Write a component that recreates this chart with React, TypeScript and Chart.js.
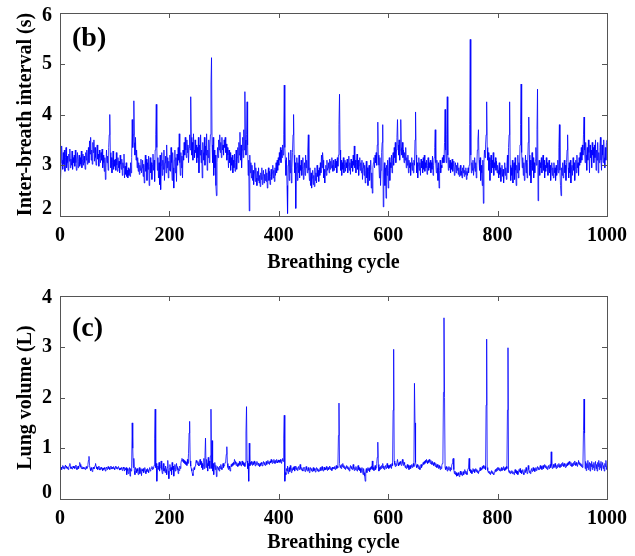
import React, { useEffect, useRef } from "react";
import { Chart, registerables } from "chart.js";

Chart.register(...registerables);

const FONT = "'Liberation Serif', 'Times New Roman', serif";

const cycleTicks = [0, 200, 400, 600, 800, 1000];
const intervalTicks = [2, 3, 4, 5, 6];
const volumeTicks = [0, 1, 2, 3, 4];

// Inter-breath interval (s), one value per breathing cycle (1..1000)
const interBreath = [
  2.72, 3.05, 3.38, 3.10, 2.92, 3.25, 3.02, 3.30, 2.88, 3.15, 3.35, 2.95, 3.18, 3.05, 2.90, 3.22, 3.08, 3.32, 2.95, 3.12, 3.00, 3.28, 2.92, 3.15, 3.05,
  3.20, 2.98, 3.30, 3.05, 2.90, 3.12, 3.25, 2.95, 3.08, 3.20, 2.98, 3.15, 3.02, 3.28, 2.95, 3.10, 3.22, 3.00, 3.18, 3.05, 2.92, 3.25, 3.10, 3.30, 3.02,
  3.15, 3.35, 3.05, 3.48, 3.22, 3.55, 3.10, 3.30, 3.02, 3.45, 3.25, 3.50, 3.08, 3.35, 3.15, 3.00, 3.28, 3.40, 3.12, 3.22, 2.98, 3.30, 3.15, 3.05, 3.25,
  3.10, 3.32, 2.95, 3.20, 3.05, 2.88, 3.15, 2.72, 2.95, 3.30, 3.05, 3.18, 2.90, 3.35, 3.60, 4.00, 3.25, 2.95, 3.15, 2.85, 3.05, 3.28, 2.92, 3.10, 2.98,
  3.12, 2.90, 3.25, 3.00, 2.88, 3.15, 2.95, 3.08, 2.85, 3.20, 3.02, 2.92, 3.12, 2.80, 3.05, 2.95, 3.22, 2.75, 2.98, 2.82, 3.05, 2.78, 2.90, 2.75, 2.95,
  2.80, 2.92, 2.78, 3.05, 2.85, 3.15, 3.90, 3.35, 3.60, 4.27, 3.45, 3.20, 3.55, 3.10, 3.30, 2.95, 3.15, 2.88, 3.05, 2.82, 3.00, 2.90, 3.12, 2.85, 2.95,
  3.10, 2.78, 3.02, 2.65, 2.95, 3.20, 2.88, 3.12, 2.70, 3.05, 2.92, 3.18, 2.60, 2.98, 3.15, 2.85, 3.05, 2.72, 3.00, 3.22, 2.90, 3.10, 2.68, 3.30, 3.60,
  4.20, 3.35, 2.90, 3.15, 2.75, 3.05, 2.62, 3.20, 2.52, 3.00, 3.25, 2.80, 3.10, 2.92, 3.30, 2.70, 3.05, 3.18, 2.85, 3.40, 2.95, 3.15, 2.75, 3.08, 2.90,
  3.20, 2.88, 3.35, 3.05, 2.70, 3.25, 2.95, 2.55, 3.10, 3.30, 2.85, 3.15, 2.68, 3.22, 3.00, 3.35, 3.10, 3.62, 3.05, 2.80, 3.25, 2.95, 3.18, 2.75, 3.30,
  3.10, 3.45, 3.20, 3.55, 3.30, 3.15, 3.50, 3.25, 3.40, 3.05, 3.35, 3.60, 3.30, 4.35, 3.55, 3.20, 3.45, 3.10, 3.62, 3.30, 3.15, 3.50, 3.25, 3.40, 3.05,
  3.35, 3.15, 3.55, 2.85, 3.40, 3.20, 3.60, 3.05, 3.30, 2.75, 3.45, 3.25, 3.10, 3.55, 3.00, 3.38, 3.20, 3.62, 2.90, 3.30, 3.15, 3.50, 3.05, 3.35, 3.60,
  4.60, 5.12, 3.40, 3.05, 3.55, 2.80, 3.30, 2.95, 3.20, 2.60, 2.40, 3.05, 3.35, 3.15, 3.50, 3.30, 3.60, 3.25, 3.45, 3.15, 3.55, 3.30, 3.40, 3.20, 3.50,
  3.35, 3.55, 3.25, 3.42, 3.10, 3.35, 3.20, 2.95, 3.30, 3.05, 3.25, 2.90, 3.15, 3.00, 3.20, 2.85, 3.10, 2.95, 3.22, 2.88, 3.05, 3.30, 2.92, 3.15, 3.35,
  3.05, 3.45, 3.20, 3.65, 3.10, 3.40, 2.95, 3.30, 3.55, 3.15, 3.70, 3.30, 4.45, 3.50, 3.20, 3.60, 4.25, 3.40, 2.80, 3.10, 2.10, 3.20, 2.85, 3.05, 2.75,
  3.00, 2.70, 2.90, 2.62, 2.85, 3.05, 2.68, 2.95, 2.75, 2.60, 2.88, 2.70, 2.95, 2.65, 2.80, 2.58, 2.85, 2.72, 2.95, 2.62, 2.78, 2.90, 2.65, 2.82, 2.70,
  2.92, 2.68, 2.85, 2.55, 2.80, 2.95, 2.70, 2.88, 2.62, 2.78, 2.92, 2.72, 2.85, 3.00, 2.75, 2.90, 2.68, 2.95, 2.80, 3.05, 2.85, 3.10, 2.90, 3.15, 3.00,
  3.25, 3.10, 3.35, 3.05, 3.30, 3.15, 3.40, 3.20, 3.60, 4.58, 3.35, 3.10, 2.80, 3.15, 2.60, 2.05, 3.00, 3.25, 2.70, 3.10, 2.85, 3.30, 2.65, 2.95, 3.25,
  3.60, 4.00, 3.20, 2.85, 3.05, 2.15, 2.95, 3.15, 2.70, 3.05, 2.85, 3.20, 2.75, 3.00, 2.90, 3.10, 2.80, 2.95, 3.15, 2.72, 2.90, 3.05, 2.80, 3.20, 2.95,
  3.10, 2.85, 3.30, 3.60, 2.90, 2.70, 2.95, 2.60, 2.85, 2.55, 2.75, 2.90, 2.62, 2.80, 2.58, 2.95, 2.70, 2.85, 2.65, 3.00, 2.78, 2.90, 2.68, 2.95, 2.80,
  3.05, 2.85, 3.20, 2.95, 3.25, 3.10, 2.75, 2.92, 2.65, 2.88, 3.00, 2.80, 3.10, 2.90, 2.95, 3.05, 2.85, 3.12, 2.92, 3.08, 2.95, 3.15, 3.00, 2.88, 3.10,
  2.90, 3.05, 3.12, 2.95, 3.08, 2.85, 3.15, 2.98, 3.20, 3.80, 4.40, 3.30, 2.90, 3.10, 2.80, 3.05, 2.92, 3.15, 2.85, 3.00, 3.10, 2.88, 3.05, 2.95, 3.12,
  2.85, 3.00, 3.18, 2.90, 3.05, 2.82, 3.12, 2.95, 3.08, 2.88, 3.20, 3.00, 3.38, 2.95, 3.10, 2.85, 3.05, 3.22, 2.92, 3.10, 2.80, 3.00, 3.15, 2.90, 3.05,
  2.85, 3.10, 2.72, 2.95, 3.05, 2.80, 3.00, 2.65, 2.90, 3.08, 2.75, 2.95, 2.60, 2.88, 3.00, 2.70, 2.92, 3.10, 2.55, 2.85, 2.45, 2.95, 3.05, 3.15, 2.95,
  3.20, 3.05, 3.25, 3.00, 3.40, 3.85, 3.20, 3.00, 2.75, 3.15, 2.60, 2.90, 3.25, 3.45, 3.80, 2.18, 2.85, 3.05, 2.60, 2.95, 2.35, 3.00, 2.80, 3.10, 2.55,
  2.90, 3.15, 2.70, 3.05, 2.95, 3.20, 2.85, 3.10, 3.25, 3.00, 3.35, 3.15, 3.45, 3.05, 3.30, 3.55, 3.90, 3.40, 3.20, 3.50, 3.10, 3.30, 3.90, 3.35, 3.20,
  3.45, 3.15, 3.30, 3.05, 3.25, 3.10, 3.35, 2.95, 3.15, 3.00, 3.20, 2.85, 3.10, 2.95, 3.05, 2.80, 3.00, 3.15, 2.90, 3.05, 2.85, 3.10, 3.00, 3.50, 4.05,
  3.20, 2.85, 3.05, 2.75, 3.00, 3.15, 2.90, 3.05, 2.80, 3.12, 2.95, 3.08, 2.85, 3.15, 2.92, 3.20, 2.88, 3.05, 2.95, 3.10, 2.82, 3.00, 3.15, 2.90, 3.05,
  2.95, 3.10, 2.85, 3.05, 2.92, 3.18, 2.80, 3.00, 3.15, 3.35, 3.70, 3.05, 2.85, 3.10, 2.95, 2.70, 3.05, 2.55, 2.90, 3.10, 2.85, 3.00, 2.95, 3.15, 3.05,
  3.20, 3.05, 3.45, 4.10, 3.30, 3.05, 3.60, 4.35, 3.20, 2.90, 3.15, 2.95, 3.10, 2.85, 3.05, 2.92, 3.12, 2.88, 3.00, 3.08, 2.80, 2.95, 3.05, 2.85, 3.00,
  2.90, 3.05, 2.82, 2.95, 2.78, 2.92, 3.00, 2.80, 2.88, 2.75, 2.95, 2.85, 3.00, 2.78, 2.90, 2.82, 2.95, 2.72, 2.88, 2.80, 2.95, 2.85, 3.00, 3.80, 5.48,
  3.20, 2.85, 3.05, 2.90, 3.10, 2.80, 2.95, 3.15, 2.88, 3.05, 2.75, 3.00, 3.30, 3.50, 3.70, 3.10, 2.90, 3.15, 2.70, 3.00, 2.85, 2.60, 3.10, 2.25, 3.05,
  3.30, 3.15, 3.40, 3.60, 4.25, 3.35, 3.10, 3.25, 2.90, 3.15, 2.70, 3.05, 3.20, 2.85, 3.10, 2.95, 3.25, 2.80, 3.05, 2.95, 3.15, 2.90, 3.08, 2.85, 3.00,
  2.90, 2.75, 3.05, 2.82, 2.95, 2.68, 2.90, 3.00, 2.78, 2.92, 2.65, 2.85, 3.05, 2.80, 2.95, 2.72, 3.00, 3.20, 2.85, 3.35, 3.60, 4.25, 3.00, 2.70, 2.95,
  2.80, 3.10, 2.65, 2.95, 3.05, 2.72, 3.15, 2.90, 2.60, 3.00, 2.85, 3.20, 2.75, 3.05, 2.90, 3.40, 3.80, 4.60, 3.25, 2.95, 3.15, 2.80, 3.05, 2.70, 2.95,
  3.20, 2.85, 3.10, 2.75, 3.05, 3.45, 3.95, 3.20, 2.80, 3.10, 2.65, 3.00, 3.25, 2.90, 3.15, 2.75, 3.05, 2.85, 3.10, 3.35, 3.00, 3.70, 4.50, 2.30, 2.95,
  3.10, 2.80, 3.05, 2.95, 3.15, 2.85, 3.00, 3.20, 2.90, 3.10, 2.75, 3.00, 2.88, 3.15, 2.95, 3.05, 2.80, 2.95, 3.10, 2.85, 3.00, 2.70, 2.92, 3.05, 2.80,
  2.95, 2.75, 3.05, 2.85, 2.95, 2.70, 3.00, 2.80, 2.92, 3.10, 2.85, 3.35, 3.80, 2.90, 2.60, 2.40, 2.95, 2.80, 3.05, 2.75, 2.95, 3.10, 2.85, 3.00, 2.70,
  3.05, 3.30, 3.60, 2.95, 2.75, 3.05, 2.85, 3.10, 2.65, 2.95, 3.00, 2.80, 3.15, 2.90, 3.05, 2.70, 2.95, 3.10, 2.85, 3.20, 2.95, 3.05, 2.80, 3.15, 3.00,
  3.25, 3.05, 3.35, 3.10, 3.40, 3.20, 3.60, 3.95, 3.30, 3.05, 3.45, 3.20, 2.90, 3.35, 3.10, 3.50, 3.25, 2.85, 3.40, 3.15, 3.30, 2.95, 3.45, 3.20, 3.35,
  3.05, 3.40, 3.15, 3.50, 2.90, 3.30, 3.10, 3.45, 2.85, 3.25, 3.05, 3.35, 3.55, 3.10, 2.90, 3.40, 3.20, 3.05, 3.50, 3.15, 2.95, 3.35, 3.10, 3.45, 3.50,
];

// Lung volume (L), one value per breathing cycle (1..1000)
const lungVolume = [
  0.60, 0.63, 0.58, 0.62, 0.66, 0.60, 0.64, 0.59, 0.63, 0.67, 0.61, 0.65, 0.60, 0.63, 0.58, 0.62, 0.66, 0.70, 0.64, 0.60, 0.63, 0.59, 0.62, 0.65, 0.61,
  0.64, 0.60, 0.63, 0.67, 0.62, 0.58, 0.61, 0.65, 0.60, 0.66, 0.72, 0.68, 0.63, 0.60, 0.64, 0.61, 0.59, 0.63, 0.60, 0.62, 0.58, 0.61, 0.64, 0.60, 0.63,
  0.68, 0.76, 0.84, 0.66, 0.60, 0.56, 0.62, 0.58, 0.54, 0.60, 0.63, 0.59, 0.62, 0.66, 0.70, 0.64, 0.60, 0.63, 0.58, 0.61, 0.65, 0.60, 0.57, 0.62, 0.59,
  0.63, 0.60, 0.56, 0.61, 0.58, 0.62, 0.59, 0.55, 0.60, 0.63, 0.58, 0.61, 0.64, 0.60, 0.62, 0.58, 0.61, 0.65, 0.62, 0.59, 0.63, 0.60, 0.64, 0.61, 0.58,
  0.62, 0.65, 0.60, 0.63, 0.59, 0.61, 0.64, 0.60, 0.57, 0.61, 0.58, 0.62, 0.60, 0.56, 0.60, 0.63, 0.59, 0.55, 0.60, 0.58, 0.62, 0.48, 0.60, 0.56, 0.50,
  0.58, 0.62, 0.45, 0.60, 0.55, 0.65, 1.50, 1.00, 0.62, 0.80, 0.55, 0.48, 0.62, 0.58, 0.52, 0.60, 0.55, 0.48, 0.58, 0.62, 0.50, 0.56, 0.60, 0.46, 0.58,
  0.55, 0.60, 0.52, 0.57, 0.62, 0.55, 0.50, 0.58, 0.54, 0.60, 0.56, 0.52, 0.59, 0.62, 0.55, 0.58, 0.60, 0.64, 0.58, 0.62, 0.60, 0.66, 1.20, 1.77, 0.62,
  0.70, 0.35, 0.60, 0.65, 0.58, 0.72, 0.55, 0.62, 0.68, 0.75, 0.58, 0.50, 0.62, 0.70, 0.55, 0.60, 0.52, 0.65, 0.58, 0.48, 0.62, 0.76, 0.55, 0.40, 0.60,
  0.68, 0.55, 0.62, 0.48, 0.72, 0.58, 0.65, 0.45, 0.60, 0.68, 0.55, 0.62, 0.70, 0.58, 0.64, 0.50, 0.60, 0.56, 0.65, 0.60, 0.70, 0.76, 0.80, 0.74, 0.78,
  0.72, 0.76, 0.70, 0.74, 0.68, 0.72, 0.66, 0.78, 0.70, 0.90, 1.30, 1.53, 0.75, 0.65, 0.60, 0.55, 0.50, 0.46, 0.55, 0.62, 0.58, 0.65, 0.70, 0.76, 0.72,
  0.68, 0.74, 0.70, 0.65, 0.72, 0.78, 0.68, 0.74, 0.62, 0.70, 0.58, 0.66, 0.80, 0.60, 0.85, 1.20, 0.62, 0.78, 0.70, 0.55, 0.82, 0.65, 0.75, 0.60, 0.85,
  1.77, 0.60, 1.15, 0.55, 0.70, 0.48, 0.65, 0.72, 0.58, 0.66, 0.44, 0.60, 0.64, 0.58, 0.62, 0.55, 0.65, 0.60, 0.68, 0.62, 0.58, 0.64, 0.70, 0.62, 0.66,
  0.68, 0.72, 0.75, 0.88, 1.03, 0.70, 0.62, 0.58, 0.65, 0.60, 0.55, 0.62, 0.68, 0.64, 0.70, 0.66, 0.72, 0.68, 0.78, 0.74, 0.70, 0.66, 0.72, 0.68, 0.64,
  0.70, 0.66, 0.74, 0.68, 0.72, 0.65, 0.70, 0.75, 0.68, 0.72, 0.66, 0.70, 0.64, 0.72, 1.30, 1.82, 0.75, 0.60, 0.70, 0.35, 1.10, 0.65, 0.72, 0.68, 0.74,
  0.70, 0.66, 0.72, 0.68, 0.75, 0.70, 0.65, 0.72, 0.68, 0.74, 0.70, 0.66, 0.71, 0.68, 0.64, 0.70, 0.66, 0.72, 0.69, 0.65, 0.70, 0.74, 0.68, 0.72, 0.66,
  0.70, 0.74, 0.68, 0.72, 0.76, 0.70, 0.73, 0.68, 0.75, 0.71, 0.78, 0.73, 0.70, 0.76, 0.72, 0.78, 0.74, 0.70, 0.76, 0.72, 0.78, 0.74, 0.71, 0.77, 0.73,
  0.76, 0.72, 0.78, 0.74, 0.70, 0.76, 0.80, 0.74, 1.20, 1.65, 0.35, 0.52, 0.48, 0.60, 0.55, 0.65, 0.50, 0.58, 0.62, 0.54, 0.66, 0.58, 0.52, 0.60, 0.56,
  0.62, 0.58, 0.64, 0.55, 0.60, 0.65, 0.58, 0.62, 0.56, 0.60, 0.64, 0.58, 0.62, 0.68, 0.60, 0.57, 0.62, 0.58, 0.55, 0.60, 0.63, 0.58, 0.54, 0.60, 0.64,
  0.58, 0.55, 0.60, 0.62, 0.56, 0.52, 0.58, 0.62, 0.56, 0.60, 0.54, 0.58, 0.62, 0.55, 0.60, 0.57, 0.53, 0.59, 0.62, 0.56, 0.60, 0.54, 0.58, 0.55, 0.60,
  0.62, 0.56, 0.60, 0.64, 0.58, 0.55, 0.60, 0.63, 0.57, 0.61, 0.58, 0.64, 0.60, 0.56, 0.62, 0.58, 0.60, 0.65, 0.58, 0.62, 0.60, 0.56, 0.63, 0.59, 0.62,
  0.60, 0.64, 0.58, 0.62, 0.66, 0.60, 0.64, 0.62, 1.25, 1.89, 0.70, 0.62, 0.66, 0.60, 0.68, 0.64, 0.70, 0.62, 0.66, 0.60, 0.64, 0.58, 0.62, 0.66, 0.60,
  0.64, 0.58, 0.62, 0.55, 0.60, 0.66, 0.60, 0.64, 0.58, 0.62, 0.68, 0.60, 0.56, 0.62, 0.58, 0.64, 0.60, 0.55, 0.62, 0.66, 0.58, 0.62, 0.56, 0.60, 0.52,
  0.58, 0.62, 0.55, 0.48, 0.60, 0.52, 0.45, 0.35, 0.55, 0.60, 0.52, 0.58, 0.62, 0.56, 0.60, 0.54, 0.62, 0.58, 0.64, 0.60, 0.75, 0.58, 0.62, 0.56, 0.60,
  0.66, 0.58, 0.62, 0.70, 0.82, 1.12, 0.68, 0.55, 0.62, 0.58, 0.64, 0.60, 0.66, 0.62, 0.70, 0.60, 0.65, 0.58, 0.62, 0.66, 0.60, 0.64, 0.70, 0.62, 0.66,
  0.60, 0.66, 0.62, 0.68, 0.64, 0.60, 0.70, 0.66, 1.75, 2.95, 0.75, 0.68, 0.64, 0.70, 0.66, 0.72, 0.78, 0.70, 0.65, 0.72, 0.68, 0.74, 0.70, 0.66, 0.72,
  0.78, 0.70, 0.66, 0.72, 0.68, 0.62, 0.66, 0.60, 0.64, 0.68, 0.62, 0.66, 0.58, 0.62, 0.66, 0.60, 0.64, 0.68, 0.62, 0.66, 0.70, 0.64, 2.28, 1.50, 0.72,
  0.66, 0.62, 0.68, 0.64, 0.60, 0.66, 0.62, 0.58, 0.64, 0.68, 0.62, 0.66, 0.70, 0.72, 0.68, 0.74, 0.70, 0.76, 0.72, 0.78, 0.74, 0.70, 0.76, 0.72, 0.78,
  0.74, 0.70, 0.76, 0.72, 0.68, 0.74, 0.70, 0.66, 0.72, 0.68, 0.64, 0.70, 0.66, 0.62, 0.68, 0.64, 0.60, 0.66, 0.62, 0.58, 0.64, 0.60, 0.66, 0.70, 0.75,
  2.10, 3.57, 2.00, 0.62, 0.58, 0.64, 0.60, 0.55, 0.62, 0.58, 0.64, 0.60, 0.55, 0.62, 0.58, 0.65, 0.70, 0.78, 0.80, 0.58, 0.50, 0.55, 0.48, 0.52, 0.45,
  0.50, 0.46, 0.52, 0.48, 0.44, 0.50, 0.55, 0.48, 0.52, 0.46, 0.50, 0.54, 0.48, 0.52, 0.58, 0.50, 0.55, 0.52, 0.48, 0.55, 0.60, 0.65, 0.80, 0.55, 0.58,
  0.52, 0.56, 0.50, 0.55, 0.60, 0.54, 0.58, 0.52, 0.56, 0.60, 0.54, 0.58, 0.52, 0.56, 0.50, 0.55, 0.58, 0.62, 0.56, 0.60, 0.58, 0.64, 0.60, 0.66, 0.62,
  0.60, 0.64, 0.58, 1.85, 3.15, 0.62, 0.56, 0.52, 0.55, 0.50, 0.54, 0.48, 0.52, 0.56, 0.50, 0.54, 0.50, 0.48, 0.52, 0.56, 0.58, 0.54, 0.60, 0.56, 0.62,
  0.58, 0.62, 0.56, 0.60, 0.55, 0.58, 0.62, 0.56, 0.60, 0.58, 0.64, 0.60, 0.56, 0.62, 0.58, 0.64, 0.60, 1.75, 2.98, 0.55, 0.52, 0.56, 0.50, 0.54, 0.52,
  0.56, 0.50, 0.54, 0.52, 0.48, 0.54, 0.58, 0.52, 0.56, 0.50, 0.55, 0.48, 0.52, 0.58, 0.54, 0.60, 0.52, 0.56, 0.50, 0.54, 0.58, 0.52, 0.48, 0.54, 0.58,
  0.52, 0.62, 0.56, 0.50, 0.54, 0.66, 0.58, 0.52, 0.56, 0.50, 0.55, 0.60, 0.54, 0.58, 0.62, 0.56, 0.60, 0.54, 0.58, 0.62, 0.56, 0.60, 0.64, 0.58, 0.62,
  0.58, 0.62, 0.66, 0.60, 0.64, 0.58, 0.62, 0.66, 0.60, 0.64, 0.68, 0.62, 0.66, 0.60, 0.64, 0.58, 0.62, 0.66, 0.60, 0.64, 0.68, 0.62, 0.93, 0.66, 0.60,
  0.64, 0.68, 0.62, 0.66, 0.70, 0.64, 0.60, 0.66, 0.62, 0.68, 0.64, 0.70, 0.66, 0.62, 0.68, 0.64, 0.70, 0.66, 0.72, 0.68, 0.64, 0.70, 0.66, 0.62, 0.68,
  0.64, 0.70, 0.66, 0.72, 0.68, 0.74, 0.70, 0.66, 0.72, 0.68, 0.64, 0.70, 0.66, 0.72, 0.68, 0.75, 0.70, 0.66, 0.72, 0.68, 0.64, 0.70, 0.76, 0.68, 0.72,
  0.66, 0.70, 0.64, 0.68, 0.62, 0.66, 1.35, 1.97, 1.30, 0.60, 0.74, 0.56, 0.70, 0.62, 0.76, 0.58, 0.68, 0.72, 0.55, 0.70, 0.64, 0.74, 0.58, 0.68, 0.62,
  0.72, 0.56, 0.66, 0.74, 0.60, 0.68, 0.55, 0.72, 0.64, 0.76, 0.58, 0.70, 0.62, 0.74, 0.56, 0.68, 0.72, 0.60, 0.66, 0.55, 0.70, 0.64, 0.76, 0.58, 0.65,
];

type PanelSpec = {
  values: number[];
  yTicks: number[];
  yTitle: string;
  panelLabel: string;
  padTop: number;
  xAxisHeight: number;
  labelDY: number;
  titlePadBottom: number;
  endShift: [number, number]; // px shift of lowest (up) and highest (down) tick labels
};

const frameTicksPlugin = {
  id: "frameTicks",
  afterDatasetsDraw(chart: any, _args: any, opts: any) {
    const { ctx, chartArea: a, scales } = chart;
    const L = Math.round(a.left), R = Math.round(a.right), T = Math.round(a.top), B = Math.round(a.bottom);
    ctx.save();
    ctx.strokeStyle = "#555555";
    ctx.lineWidth = 1;
    ctx.strokeRect(L + 0.5, T + 0.5, R - L, B - T);
    const len = 5;
    ctx.beginPath();
    for (const t of scales.x.ticks) {
      const px = Math.round(scales.x.getPixelForValue(t.value)) + 0.5;
      ctx.moveTo(px, B); ctx.lineTo(px, B - len);
      ctx.moveTo(px, T); ctx.lineTo(px, T + len);
    }
    for (const t of scales.y.ticks) {
      const py = Math.round(scales.y.getPixelForValue(t.value)) + 0.5;
      ctx.moveTo(L, py); ctx.lineTo(L + len, py);
      ctx.moveTo(R, py); ctx.lineTo(R - len, py);
    }
    ctx.stroke();
    ctx.fillStyle = "#000";
    ctx.font = `bold 28px ${FONT}`;
    ctx.textBaseline = "middle";
    ctx.textAlign = "left";
    ctx.fillText(opts.label, L + 12, T + opts.labelDY);
    ctx.restore();
  },
};

function Panel({ spec }: { spec: PanelSpec }) {
  const ref = useRef<HTMLCanvasElement | null>(null);
  useEffect(() => {
    if (!ref.current) return;
    const yMin = spec.yTicks[0];
    const yMax = spec.yTicks[spec.yTicks.length - 1];
    const chart = new Chart(ref.current, {
      type: "line",
      data: {
        datasets: [
          {
            data: spec.values.map((v, i) => ({ x: i + 1, y: v })),
            borderColor: "#0000ff",
            borderWidth: 0.8,
            pointRadius: 0,
            tension: 0,
            fill: false,
          },
        ],
      },
      options: {
        responsive: false,
        animation: false,
        events: [],
        layout: { padding: { top: spec.padTop, right: 23, left: 0, bottom: 0 } },
        plugins: {
          legend: { display: false },
          tooltip: { enabled: false },
          frameTicks: { label: spec.panelLabel, labelDY: spec.labelDY },
        } as any,
        scales: {
          x: {
            type: "linear",
            min: 0,
            max: 1000,
            afterBuildTicks: (s: any) => {
              s.ticks = cycleTicks.map((v) => ({ value: v }));
            },
            afterFit: (s: any) => {
              s.height = spec.xAxisHeight;
            },
            grid: { display: false, drawTicks: false },
            border: { display: false },
            ticks: {
              padding: 8,
              color: "#000",
              maxRotation: 0,
              font: { family: FONT, size: 20, weight: "bold" },
              callback: (v: any) => String(v),
            },
            title: {
              display: true,
              text: "Breathing cycle",
              color: "#000",
              font: { family: FONT, size: 20, weight: "bold" },
              padding: { top: 0, bottom: spec.titlePadBottom },
            },
          },
          y: {
            type: "linear",
            min: yMin,
            max: yMax,
            afterBuildTicks: (s: any) => {
              s.ticks = spec.yTicks.map((v) => ({ value: v }));
            },
            afterFit: (s: any) => {
              s.width = 60;
            },
            grid: { display: false, drawTicks: false },
            border: { display: false },
            ticks: {
              padding: 8,
              color: "#000",
              font: (c: any) => {
                const v = c.tick ? c.tick.value : null;
                let lh: any = 1.2;
                if (v === yMin) lh = `${spec.endShift[0] * 2}px`;
                else if (v === yMax) lh = `${spec.endShift[1] * 2}px`;
                return { family: FONT, size: 20, weight: "bold", lineHeight: lh };
              },
              callback: (v: any) => {
                const s = String(v);
                if (v === yMin) return [s, ""];
                if (v === yMax) return ["", s];
                return s;
              },
            },
            title: {
              display: true,
              text: spec.yTitle,
              color: "#000",
              font: { family: FONT, size: 20, weight: "bold" },
              padding: { top: 14, bottom: 0 },
            },
          },
        },
      },
      plugins: [frameTicksPlugin],
    } as any);
    return () => chart.destroy();
  }, [spec]);
  return <canvas ref={ref} width={635} height={278} style={{ display: "block", width: 635, height: 278 }} />;
}

const topSpec: PanelSpec = {
  values: interBreath,
  yTicks: intervalTicks,
  yTitle: "Inter-breath interval (s)",
  panelLabel: "(b)",
  padTop: 13,
  xAxisHeight: 62,
  labelDY: 26,
  titlePadBottom: 3,
  endShift: [7, 2.5],
};

const bottomSpec: PanelSpec = {
  values: lungVolume,
  yTicks: volumeTicks,
  yTitle: "Lung volume (L)",
  panelLabel: "(c)",
  padTop: 18,
  xAxisHeight: 57,
  labelDY: 33,
  titlePadBottom: 1,
  endShift: [6, 1.7],
};

export default function App() {
  return (
    <div style={{ position: "absolute", left: 0, top: 0, width: 635, height: 556, background: "#fff" }}>
      <Panel spec={topSpec} />
      <Panel spec={bottomSpec} />
    </div>
  );
}
